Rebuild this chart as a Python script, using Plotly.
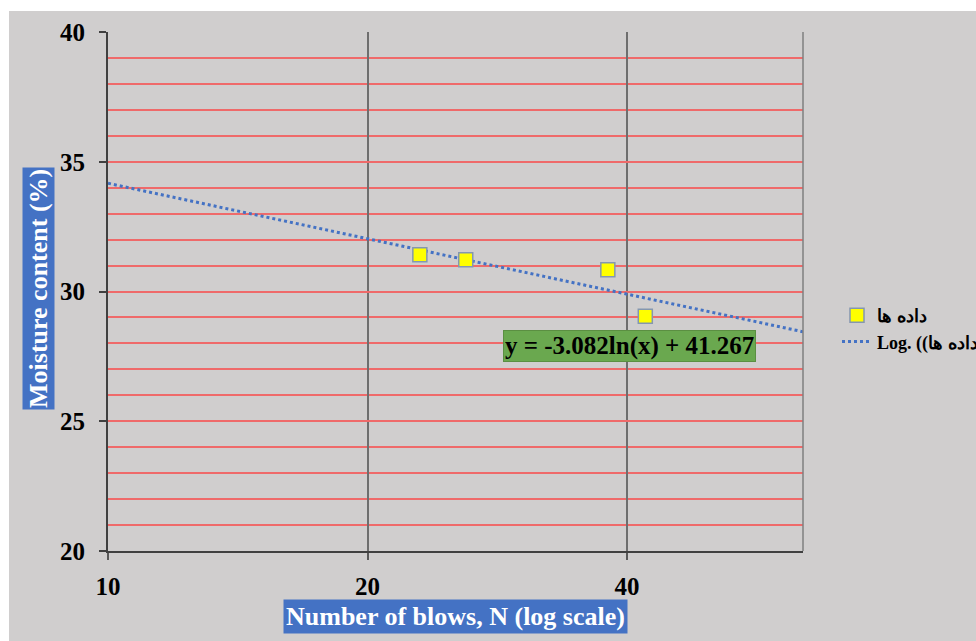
import numpy as np
import plotly.graph_objects as go

# Measured points: number of blows vs moisture content
blows = [23, 26, 38, 42]
moisture = [31.42, 31.22, 30.84, 29.05]

# Logarithmic trendline coefficients: y = a*ln(x) + b
trend_a = -3.082
trend_b = 41.267

x_ticks = [10, 20, 40]
y_ticks = [20, 25, 30, 35, 40]

series_name = "داده ها"
trend_name = "Log. ((داده ها"
equation_text = "y = -3.082ln(x) + 41.267"
x_title = "Number of blows, N (log scale)"
y_title = "Moisture content (%)"

X_MIN, X_MAX = 10, 64
trend_x = np.geomspace(X_MIN, X_MAX, 200)
trend_y = trend_a * np.log(trend_x) + trend_b

# Plot area in pixels (976 x 641 page)
L, R, T, B = 108, 803, 32, 551
W, H = 976, 641
pw, ph = R - L, B - T


def px_x(px):
    return (px - L) / pw


def px_y(py):
    return (B - py) / ph


SERIF = "Liberation Serif, Times New Roman, serif"
BG = "#d0cece"

fig = go.Figure()

fig.add_trace(go.Scatter(
    x=trend_x, y=trend_y, mode="lines", name=f"<b>{trend_name}</b>",
    line=dict(color="#4472c4", width=3, dash="dot"),
    hoverinfo="skip",
))

fig.add_trace(go.Scatter(
    x=blows, y=moisture, mode="markers", name=f"<b>{series_name}</b>",
    marker=dict(symbol="square", size=14, color="#ffff00",
                line=dict(color="#8497b0", width=1.5)),
))

shapes = [
    # grey chart area with a thin white band on the top and left
    dict(type="rect", xref="paper", yref="paper", layer="below",
         x0=px_x(9), x1=px_x(W + 20), y0=px_y(H + 20), y1=px_y(11),
         fillcolor=BG, line=dict(width=0)),
    # right border of plot area
    dict(type="line", xref="paper", yref="paper",
         x0=1, x1=1, y0=0, y1=1, line=dict(color="#7f7f7f", width=1.5)),
]

annotations = [
    dict(text=f"<b>{equation_text}</b>", xref="paper", yref="paper",
         x=px_x(629), y=px_y(346), xanchor="center", yanchor="middle",
         showarrow=False,
         font=dict(family=SERIF, size=25, color="black"),
         bgcolor="#6aa84f", bordercolor="#5b8f42", borderwidth=1, borderpad=1),
    dict(text=f"<b>{x_title}</b>", xref="paper", yref="paper",
         x=px_x(456), y=px_y(616), xanchor="center", yanchor="middle",
         showarrow=False,
         font=dict(family=SERIF, size=26, color="white"),
         bgcolor="#4472c4", borderpad=2),
    dict(text=f"<b>{y_title}</b>", xref="paper", yref="paper",
         x=px_x(38), y=px_y(289), xanchor="center", yanchor="middle",
         showarrow=False, textangle=-90,
         font=dict(family=SERIF, size=26, color="white"),
         bgcolor="#4472c4", borderpad=1),
]

fig.update_layout(
    width=W, height=H,
    margin=dict(l=L, r=W - R, t=T, b=H - B, autoexpand=False),
    paper_bgcolor="white",
    plot_bgcolor=BG,
    shapes=shapes,
    annotations=annotations,
    showlegend=True,
    legend=dict(
        x=px_x(837), y=px_y(297), xanchor="left", yanchor="top",
        bgcolor="rgba(0,0,0,0)",
        font=dict(family=SERIF, size=18, color="black"),
        traceorder="reversed",
        itemwidth=30,
        tracegroupgap=0,
    ),
    xaxis=dict(
        type="log",
        range=[np.log10(X_MIN), np.log10(X_MAX)],
        tickvals=x_ticks, ticktext=[f"<b>{v}</b>" for v in x_ticks],
        tickfont=dict(family=SERIF, size=25, color="black"),
        ticks="outside", ticklen=7, tickcolor="#595959", tickwidth=1.5,
        showgrid=True, gridcolor="#6e6e6e", gridwidth=1.5,
        showline=True, linecolor="#404040", linewidth=2,
        zeroline=False, ticklabelstandoff=5,
    ),
    yaxis=dict(
        range=[20, 40],
        tickvals=y_ticks, ticktext=[f"<b>{v}</b>" for v in y_ticks],
        tickfont=dict(family=SERIF, size=25, color="black"),
        ticks="outside", ticklen=7, tickcolor="#404040", tickwidth=1.5,
        showgrid=True, gridcolor="#ef6a6a", gridwidth=1.5,
        minor=dict(dtick=1, showgrid=True, gridcolor="#ef6a6a", gridwidth=1.5,
                   ticks=""),
        showline=True, linecolor="#404040", linewidth=2,
        zeroline=False, ticklabelstandoff=9,
    ),
)

fig.write_html("out.html")
